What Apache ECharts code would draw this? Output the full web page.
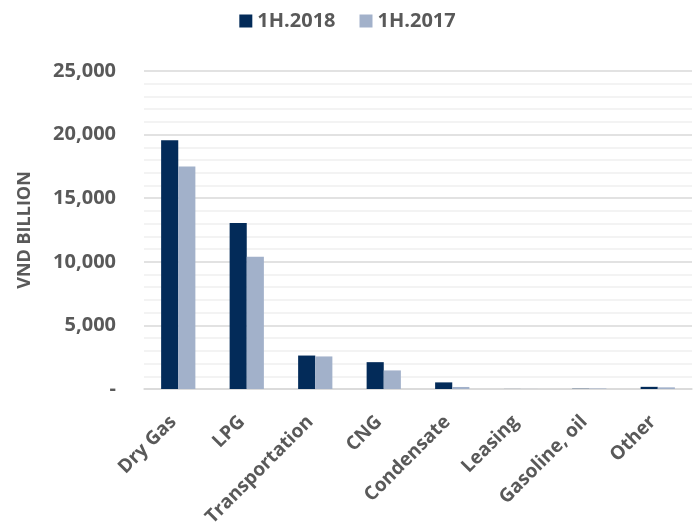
<!DOCTYPE html>
<html>
<head>
<meta charset="utf-8">
<script src="https://cdn.jsdelivr.net/npm/echarts@6/dist/echarts.min.js"></script>
<style>
  html, body { margin: 0; padding: 0; background: #fff; }
  #chart { width: 695px; height: 525px; }
</style>
</head>
<body>
<div id="chart"></div>
<script>
// Revenue by segment, VND billion
const categories = ['Dry Gas', 'LPG', 'Transportation', 'CNG', 'Condensate', 'Leasing', 'Gasoline, oil', 'Other'];
const seriesNames = ['1H.2018', '1H.2017'];
const values2018 = [19550, 13050, 2630, 2110, 520, 5, 20, 170];
const values2017 = [17500, 10400, 2560, 1460, 160, 5, 40, 130];
const yTicks = [0, 5000, 10000, 15000, 20000, 25000];

const textColor = '#595959';
const fontFamily = '"Open Sans", sans-serif';

const chart = echarts.init(document.getElementById('chart'), null, { renderer: 'canvas' });

chart.setOption({
  animation: false,
  textStyle: { fontFamily: fontFamily },
  legend: {
    top: 6,
    left: 'center',
    itemWidth: 13,
    itemHeight: 13,
    itemGap: 24,
    icon: 'rect',
    textStyle: { color: textColor, fontSize: 20, fontWeight: 'bold', fontFamily: fontFamily },
    data: seriesNames
  },
  grid: { left: 144, right: 3, top: 71, bottom: 136, containLabel: false, outerBoundsMode: 'none' },
  xAxis: {
    type: 'category',
    data: categories,
    axisLine: { lineStyle: { color: '#d9d9d9', width: 1.5 } },
    axisTick: { show: false },
    axisLabel: {
      rotate: 45,
      interval: 0,
      margin: 25,
      padding: [0, 7, 0, 0],
      color: textColor,
      fontSize: 19,
      fontWeight: 'bold',
      fontFamily: fontFamily
    }
  },
  yAxis: {
    type: 'value',
    min: yTicks[0],
    max: yTicks[yTicks.length - 1],
    interval: 5000,
    name: 'VND BILLION',
    nameLocation: 'middle',
    nameGap: 110,
    nameTextStyle: { color: textColor, fontSize: 18, fontWeight: 'bold', fontFamily: fontFamily },
    axisLine: { show: false },
    axisTick: { show: false },
    axisLabel: {
      margin: 28,
      color: textColor,
      fontSize: 20,
      fontWeight: 'bold',
      fontFamily: fontFamily,
      formatter: function (v) { return v === 0 ? '-' : v.toLocaleString('en-US'); }
    },
    splitLine: { lineStyle: { color: '#d9d9d9', width: 1.5 } },
    minorTick: { show: false, splitNumber: 5 },
    minorSplitLine: { show: true, lineStyle: { color: '#f0f0f0', width: 1.5 } }
  },
  series: [
    {
      name: seriesNames[0],
      type: 'bar',
      data: values2018,
      barGap: '0%',
      barCategoryGap: '50%',
      itemStyle: { color: '#032b59' }
    },
    {
      name: seriesNames[1],
      type: 'bar',
      data: values2017,
      itemStyle: { color: '#a2b1ca' }
    }
  ]
});
</script>
</body>
</html>
